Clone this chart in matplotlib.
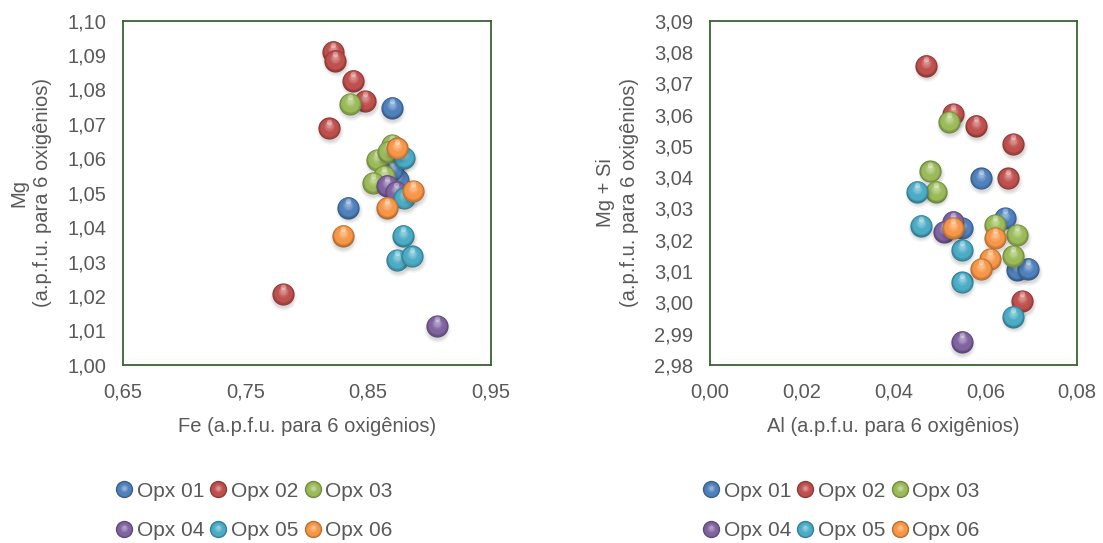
import numpy as np
import matplotlib
matplotlib.use("Agg")
import matplotlib.pyplot as plt
from matplotlib.colors import to_rgb
from matplotlib.lines import Line2D
from matplotlib.legend_handler import HandlerBase
from matplotlib.transforms import offset_copy
from matplotlib.ticker import FuncFormatter, FixedLocator

plt.rcParams['font.family'] = ['Liberation Sans', 'DejaVu Sans']

series = ['Opx 01', 'Opx 02', 'Opx 03', 'Opx 04', 'Opx 05', 'Opx 06']
colors = ['#4F81BD', '#C0504D', '#9BBB59', '#8064A2', '#4BACC6', '#F79646']

# Fe x Mg (a.p.f.u., 6 oxigênios)
fe = [
    [0.8692, 0.8719, 0.8746, 0.8338, 0.8695],
    [0.8211, 0.8230, 0.8379, 0.8477, 0.8181, 0.7803],
    [0.8352, 0.8697, 0.8575, 0.8629, 0.8537, 0.8662],
    [0.8656, 0.8727, 0.9059],
    [0.8793, 0.8793, 0.8787, 0.8738, 0.8860],
    [0.8733, 0.8868, 0.8651, 0.8292],
]
mg = [
    [1.0747, 1.0587, 1.0537, 1.0457, 1.0566],
    [1.0910, 1.0884, 1.0826, 1.0767, 1.0687, 1.0206],
    [1.0758, 1.0639, 1.0595, 1.0549, 1.0528, 1.0619],
    [1.0521, 1.0502, 1.0113],
    [1.0602, 1.0484, 1.0375, 1.0305, 1.0315],
    [1.0629, 1.0505, 1.0457, 1.0375],
]

# Al x (Mg + Si)
al = [
    [0.0591, 0.0549, 0.0643, 0.0669, 0.0693],
    [0.0471, 0.0530, 0.0580, 0.0661, 0.0650, 0.0681],
    [0.0521, 0.0480, 0.0492, 0.0621, 0.0669, 0.0661],
    [0.0529, 0.0509, 0.0549],
    [0.0452, 0.0459, 0.0549, 0.0549, 0.0661],
    [0.0529, 0.0621, 0.0610, 0.0590],
]
mgsi = [
    [3.0396, 3.0237, 3.0269, 3.0104, 3.0107],
    [3.0756, 3.0602, 3.0564, 3.0506, 3.0396, 3.0004],
    [3.0576, 3.0418, 3.0354, 3.0247, 3.0215, 3.0148],
    [3.0258, 3.0226, 2.9874],
    [3.0354, 3.0245, 3.0167, 3.0064, 2.9954],
    [3.0237, 3.0205, 3.0138, 3.0106],
]

fe_ticks = [0.65, 0.75, 0.85, 0.95]
mg_ticks = [1.00, 1.01, 1.02, 1.03, 1.04, 1.05, 1.06, 1.07, 1.08, 1.09, 1.10]
al_ticks = [0.00, 0.02, 0.04, 0.06, 0.08]
mgsi_ticks = [2.98, 2.99, 3.00, 3.01, 3.02, 3.03, 3.04, 3.05, 3.06, 3.07, 3.08, 3.09]

text_color = '#595959'
frame_color = '#376330'


def shades(color):
    base = np.array(to_rgb(color))
    dark = base * 0.72
    light = base + (1 - base) * 0.38
    return base, dark, light


def ball_layers(color, n=12):
    # (size fraction, upward shift fraction, rgb) from the rim to the core
    base, dark, light = shades(color)
    out = []
    for i in range(n):
        t = i / (n - 1)
        r = 1 - 0.8 * t
        if t < 0.25:
            c = dark + (base - dark) * (t / 0.25)
        elif t < 0.55:
            c = base
        else:
            c = base + (light - base) * ((t - 0.55) / 0.45)
        out.append((r, 0.2 * (1 - r), np.clip(c, 0, 1)))
    return out


def draw_ball(ax, fig, x, y, color, z, d=16.0):
    # soft drop shadow
    for k, a in [(1.2, 0.04), (1.08, 0.05), (0.96, 0.06)]:
        tr = offset_copy(ax.transData, fig=fig, x=0.4, y=-2.0, units='points')
        ax.scatter([x], [y], s=(d * k) ** 2, color='k', alpha=a, lw=0,
                   transform=tr, zorder=z, clip_on=False)
    for r, dy, c in ball_layers(color):
        tr = offset_copy(ax.transData, fig=fig, x=0, y=dy * d, units='points')
        ax.scatter([x], [y], s=(d * r) ** 2, color=c, lw=0,
                   transform=tr, zorder=z, clip_on=False)
    tr = offset_copy(ax.transData, fig=fig, x=0, y=0.3 * d, units='points')
    ax.scatter([x], [y], s=(d * 0.25) ** 2, color='white', alpha=0.35, lw=0,
               transform=tr, zorder=z, clip_on=False)


class BallHandler(HandlerBase):
    def create_artists(self, legend, orig_handle, xdescent, ydescent,
                       width, height, fontsize, trans):
        color = orig_handle.get_color()
        cx = width / 2 - xdescent
        cy = height / 2 - ydescent
        d = 12.5
        arts = []
        for r, dy, c in ball_layers(color, n=8):
            arts.append(Line2D([cx], [cy + dy * d * 0.6], marker='o', ms=d * r,
                               color=c, mec='none', ls='', transform=trans))
        return arts


def comma(v, pos):
    return f"{v:.2f}".replace('.', ',')


fig = plt.figure(figsize=(11.03, 5.43), dpi=100)
ax1 = fig.add_axes([0.1115, 0.328, 0.3335, 0.634])
ax2 = fig.add_axes([0.6437, 0.328, 0.3328, 0.634])

panels = [
    (ax1, fe, mg, (0.65, 0.95), (1.00, 1.10), fe_ticks, mg_ticks,
     'Fe (a.p.f.u. para 6 oxigênios)', 'Mg\n(a.p.f.u. para 6 oxigênios)'),
    (ax2, al, mgsi, (0.0, 0.08), (2.98, 3.09), al_ticks, mgsi_ticks,
     'Al (a.p.f.u. para 6 oxigênios)', 'Mg + Si\n(a.p.f.u. para 6 oxigênios)'),
]

for ax, xs, ys, xlim, ylim, xt, yt, xlab, ylab in panels:
    ax.set_xlim(*xlim)
    ax.set_ylim(*ylim)
    ax.xaxis.set_major_locator(FixedLocator(xt))
    ax.yaxis.set_major_locator(FixedLocator(yt))
    ax.xaxis.set_major_formatter(FuncFormatter(comma))
    ax.yaxis.set_major_formatter(FuncFormatter(comma))
    ax.tick_params(length=0, labelsize=14.5, colors=text_color)
    ax.tick_params(axis='x', pad=13)
    ax.tick_params(axis='y', pad=12)
    for sp in ax.spines.values():
        sp.set_color(frame_color)
        sp.set_linewidth(1.3)
    ax.set_xlabel(xlab, fontsize=14.5, color=text_color, labelpad=11)
    ax.set_ylabel(ylab, fontsize=14.5, color=text_color, labelpad=11,
                  linespacing=1.3)

    z = 3
    for xv, yv, col in zip(xs, ys, colors):
        for x, y in zip(xv, yv):
            draw_ball(ax, fig, x, y, col, z)
            z += 1

    handles = [Line2D([], [], color=c) for c in colors]
    order = [0, 3, 1, 4, 2, 5]
    cx = ax.get_position().x0 + 0.119
    fig.legend([handles[i] for i in order], [series[i] for i in order],
               handler_map={Line2D: BallHandler()},
               loc='center', bbox_to_anchor=(cx, 0.059), ncol=3,
               frameon=False, fontsize=15, labelcolor=text_color,
               handlelength=0.8, handletextpad=0.2, columnspacing=0.3,
               labelspacing=1.0, borderpad=0)

fig.savefig('out.png', dpi=100)
